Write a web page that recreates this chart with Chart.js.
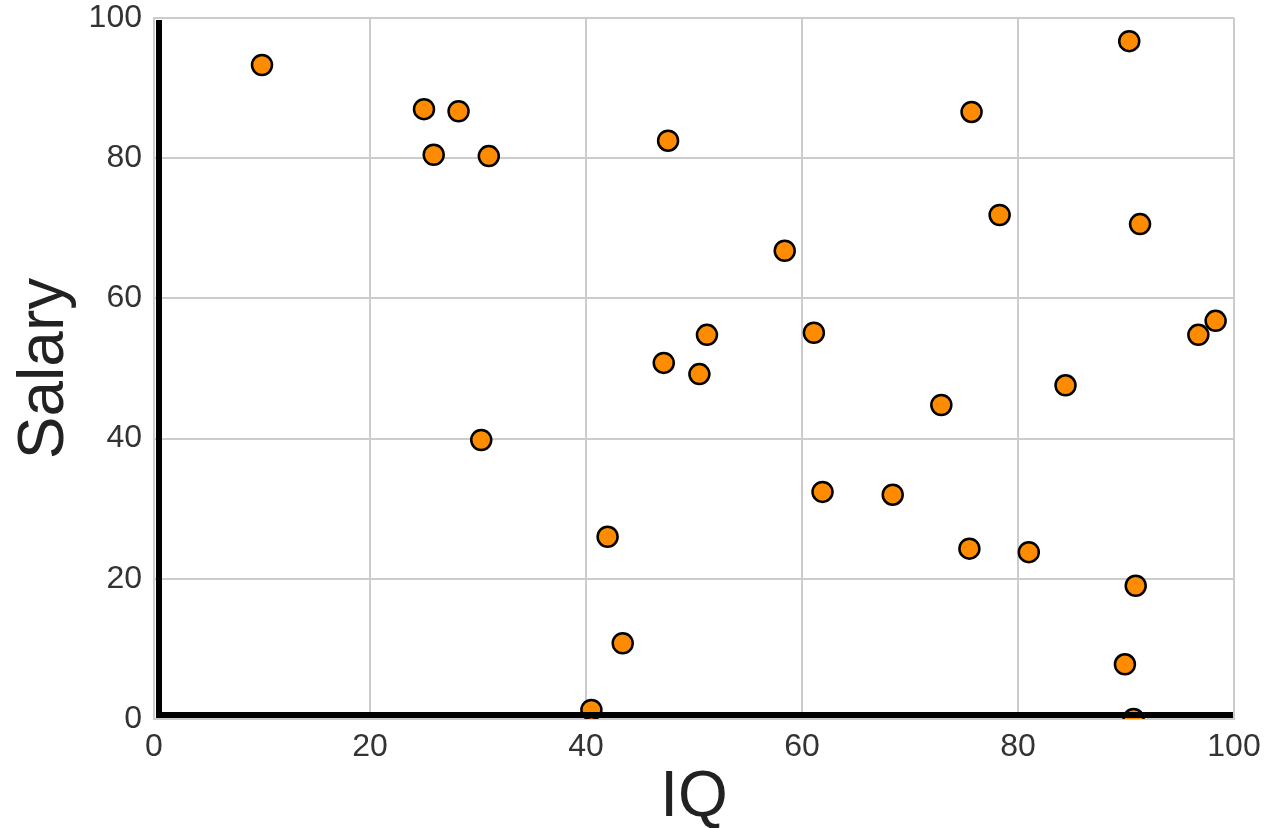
<!DOCTYPE html>
<html>
<head>
<meta charset="utf-8">
<script src="https://cdn.jsdelivr.net/npm/chart.js@4/dist/chart.umd.min.js"></script>
<style>
  html, body { margin: 0; padding: 0; background: #fff; }
  #wrap { width: 1266px; height: 828px; }
</style>
</head>
<body>
<div id="wrap"><canvas id="myChart" width="1266" height="828"></canvas></div>
<script>
'use strict';

// values
var iq = [10.0, 25.0, 28.2, 25.9, 31.0, 30.3, 47.6, 42.0, 43.4, 40.5,
          47.2, 50.5, 51.2, 58.4, 61.1, 61.9, 68.4, 72.9, 75.7, 75.5,
          78.3, 81.0, 84.4, 90.3, 91.3, 90.9, 89.9, 90.7, 96.7, 98.3];
var salary = [93.3, 87.0, 86.7, 80.5, 80.3, 39.8, 82.5, 26.0, 10.8, 1.3,
              50.8, 49.2, 54.8, 66.8, 55.1, 32.4, 32.0, 44.8, 86.6, 24.3,
              71.9, 23.8, 47.6, 96.7, 70.6, 19.0, 7.8, 0.0, 54.8, 56.8];
var xTicks = [0, 20, 40, 60, 80, 100];
var yTicks = [0, 20, 40, 60, 80, 100];

var points = [];
iq.forEach(function(v, i) {
    points.push({ x: v, y: salary[i] });
});

var fontFamily = '"Liberation Sans", Arial, Helvetica, sans-serif';

// thick black spines drawn on top of the markers
var blackSpines = {
    id: 'blackSpines',
    afterDatasetsDraw: function(chart) {
        var a = chart.chartArea;
        var ctx = chart.ctx;
        ctx.save();
        ctx.strokeStyle = '#000';
        ctx.lineWidth = 6;
        ctx.beginPath();
        ctx.moveTo(a.left + 5, a.top + 2);
        ctx.lineTo(a.left + 5, a.bottom - 1);
        ctx.moveTo(a.left + 2, a.bottom - 4);
        ctx.lineTo(a.right - 1, a.bottom - 4);
        ctx.stroke();
        ctx.restore();
    }
};

var ctx = document.getElementById('myChart');
var myChart = new Chart(ctx, {
    type: 'scatter',
    data: {
        datasets: [{
            data: points,
            backgroundColor: '#ff8c00',
            borderColor: '#000',
            borderWidth: 2.5,
            pointRadius: 10,
            pointHoverRadius: 10,
            clip: 0
        }]
    },
    options: {
        responsive: false,
        animation: false,
        layout: { padding: { top: 18, right: 32, left: 0, bottom: 0 } },
        plugins: {
            legend: { display: false },
            tooltip: { enabled: false }
        },
        scales: {
            x: {
                type: 'linear',
                min: 0,
                max: 100,
                afterBuildTicks: function(scale) {
                    scale.ticks = xTicks.map(function(v) { return { value: v }; });
                },
                afterFit: function(scale) {
                    scale.height = 109;
                    scale.paddingLeft = 0;
                    scale.paddingRight = 0;
                },
                grid: { color: '#cccccc', lineWidth: 2, drawTicks: false },
                border: { color: '#cccccc', width: 2 },
                ticks: {
                    color: '#333',
                    padding: 9,
                    font: { family: fontFamily, size: 32 }
                },
                title: {
                    display: true,
                    text: 'IQ',
                    color: '#222',
                    padding: { top: 0, bottom: -2 },
                    font: { family: fontFamily, size: 64, lineHeight: 1 }
                }
            },
            y: {
                type: 'linear',
                min: 0,
                max: 100,
                afterBuildTicks: function(scale) {
                    scale.ticks = yTicks.map(function(v) { return { value: v }; });
                },
                afterFit: function(scale) {
                    scale.width = 154;
                    scale.paddingTop = 0;
                    scale.paddingBottom = 0;
                },
                grid: { color: '#cccccc', lineWidth: 2, drawTicks: false },
                border: { color: '#cccccc', width: 2 },
                ticks: {
                    color: '#333',
                    padding: 12,
                    font: { family: fontFamily, size: 32 }
                },
                title: {
                    display: true,
                    text: 'Salary',
                    color: '#222',
                    padding: { top: 13, bottom: 0 },
                    font: { family: fontFamily, size: 64, lineHeight: 1 }
                }
            }
        }
    },
    plugins: [blackSpines]
});
</script>
</body>
</html>
